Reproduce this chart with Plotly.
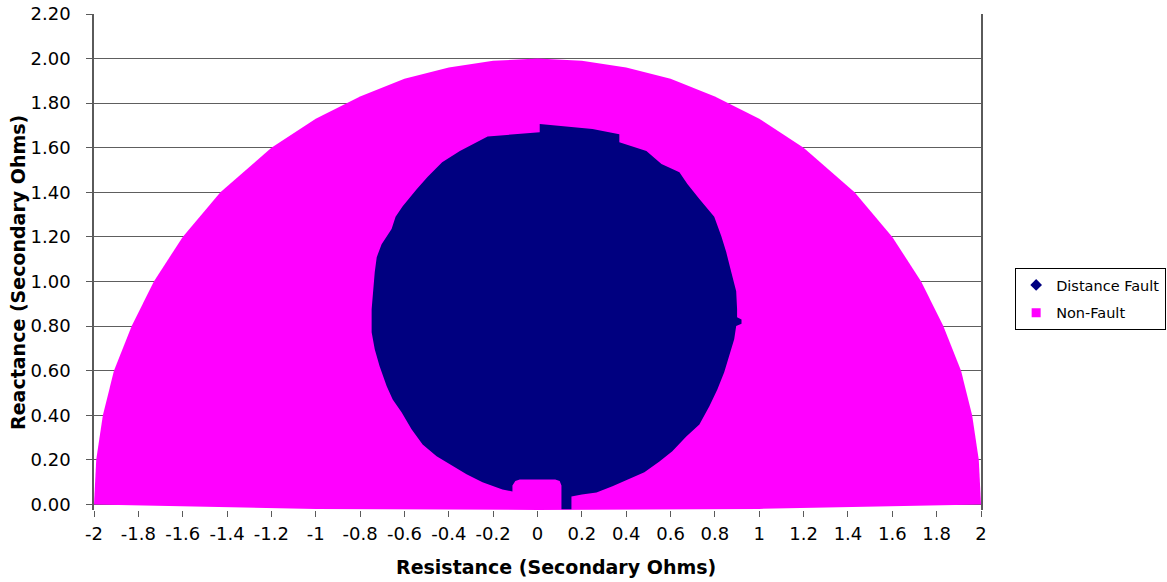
import plotly.graph_objects as go

# Impedance plane regions (secondary ohms): outline of the non-fault area
nonfault_r = [-2.00, -1.99, -1.96, -1.91, -1.83, -1.73, -1.60, -1.43, -1.20, -1.00, -0.80, -0.60, -0.40, -0.20,
              0.00, 0.20, 0.40, 0.60, 0.80, 1.00, 1.20, 1.43, 1.60, 1.73, 1.83, 1.91, 1.96, 1.99, 2.00,
              1.00, 0.00, -1.00]
nonfault_x = [0.00, 0.20, 0.40, 0.60, 0.80, 1.00, 1.20, 1.40, 1.60, 1.73, 1.83, 1.91, 1.96, 1.99,
              2.00, 1.99, 1.96, 1.91, 1.83, 1.73, 1.60, 1.40, 1.20, 1.00, 0.80, 0.60, 0.40, 0.20, 0.00,
              -0.02, -0.025, -0.02]

# Outline of the distance-fault area
fault_r = [-0.113, -0.113, -0.100, -0.080, 0.080, 0.100, 0.108, 0.108, 0.153, 0.153,
           0.200, 0.266, 0.338, 0.405, 0.482, 0.550, 0.608, 0.671, 0.730, 0.775, 0.811, 0.842,
           0.865, 0.887, 0.896, 0.920, 0.920, 0.900, 0.900, 0.896, 0.874, 0.851, 0.829, 0.797,
           0.730, 0.676, 0.640, 0.559, 0.491, 0.369, 0.369, 0.248, 0.010, 0.010,
           -0.225, -0.350, -0.430, -0.495, -0.545, -0.608, -0.640, -0.658, -0.703, -0.725,
           -0.734, -0.743, -0.748, -0.748, -0.734, -0.712, -0.680, -0.653, -0.613, -0.568,
           -0.518, -0.455, -0.383, -0.320, -0.248, -0.158, -0.113]
fault_x = [0.058, 0.085, 0.105, 0.112, 0.112, 0.105, 0.085, -0.022, -0.022, 0.036,
           0.045, 0.054, 0.081, 0.112, 0.144, 0.193, 0.238, 0.305, 0.359, 0.440, 0.516, 0.593,
           0.665, 0.741, 0.800, 0.810, 0.830, 0.840, 0.876, 0.956, 1.042, 1.132, 1.203, 1.290,
           1.370, 1.437, 1.490, 1.527, 1.585, 1.625, 1.661, 1.684, 1.706, 1.670,
           1.650, 1.585, 1.535, 1.470, 1.414, 1.338, 1.290, 1.235, 1.167, 1.109,
           1.042, 0.952, 0.876, 0.772, 0.696, 0.620, 0.530, 0.471, 0.413, 0.337,
           0.269, 0.216, 0.171, 0.135, 0.099, 0.067, 0.058]

x_tickvals = [-2, -1.8, -1.6, -1.4, -1.2, -1, -0.8, -0.6, -0.4, -0.2, 0,
              0.2, 0.4, 0.6, 0.8, 1, 1.2, 1.4, 1.6, 1.8, 2]
x_ticktext = ["-2", "-1.8", "-1.6", "-1.4", "-1.2", "-1", "-0.8", "-0.6", "-0.4", "-0.2", "0",
              "0.2", "0.4", "0.6", "0.8", "1", "1.2", "1.4", "1.6", "1.8", "2"]

NAVY = "#000080"
MAGENTA = "#FF00FF"
AXIS = "#5a5a5a"
FONT = "DejaVu Sans"

fig = go.Figure()

fig.add_trace(go.Scatter(x=nonfault_r, y=nonfault_x, mode="lines", fill="toself",
                         fillcolor=MAGENTA, line=dict(color=MAGENTA, width=0),
                         showlegend=False, legendgroup="nf", hoverinfo="skip"))
fig.add_trace(go.Scatter(x=fault_r, y=fault_x, mode="lines", fill="toself",
                         fillcolor=NAVY, line=dict(color=NAVY, width=0),
                         showlegend=False, legendgroup="df", hoverinfo="skip"))

# legend entries
fig.add_trace(go.Scatter(x=[None], y=[None], mode="markers", name="Distance Fault",
                         legendgroup="df",
                         marker=dict(symbol="diamond", color=NAVY, size=9)))
fig.add_trace(go.Scatter(x=[None], y=[None], mode="markers", name="Non-Fault",
                         legendgroup="nf",
                         marker=dict(symbol="square", color=MAGENTA, size=9)))

fig.update_layout(
    width=1167, height=582,
    margin=dict(l=94, r=186, t=14, b=72, autoexpand=False),
    paper_bgcolor="white", plot_bgcolor="white",
    font=dict(family=FONT, size=18, color="black"),
    showlegend=True,
    legend=dict(x=1.0385, y=0.488, xanchor="left", yanchor="top",
                bordercolor="black", borderwidth=1, bgcolor="white",
                font=dict(family=FONT, size=14.5), tracegroupgap=6),
    xaxis=dict(range=[-2, 2], tickvals=x_tickvals, ticktext=x_ticktext,
               showgrid=False, zeroline=False, showline=False,
               ticks="outside", ticklen=6, tickcolor=AXIS, tickwidth=1,
               ticklabelstandoff=1, automargin=False),
    yaxis=dict(range=[-0.025, 2.2], dtick=0.2, tick0=0, tickformat=".2f",
               showgrid=True, gridcolor="#5e5e5e", gridwidth=1,
               zeroline=False, showline=True, linecolor=AXIS, linewidth=1.5,
               mirror=True, ticks="outside", ticklen=6, tickcolor=AXIS, tickwidth=1,
               ticklabelstandoff=12, automargin=False),
    annotations=[
        dict(text="<b>Resistance (Secondary Ohms)</b>", xref="paper", yref="paper",
             x=0.521, y=-0.115, xanchor="center", yanchor="middle", showarrow=False,
             font=dict(family=FONT, size=19)),
        dict(text="<b>Reactance (Secondary Ohms)</b>", xref="paper", yref="paper",
             x=-0.0857, y=0.48, xanchor="center", yanchor="middle", showarrow=False,
             textangle=-90, font=dict(family=FONT, size=19)),
    ],
)

fig.write_html("out.html")
